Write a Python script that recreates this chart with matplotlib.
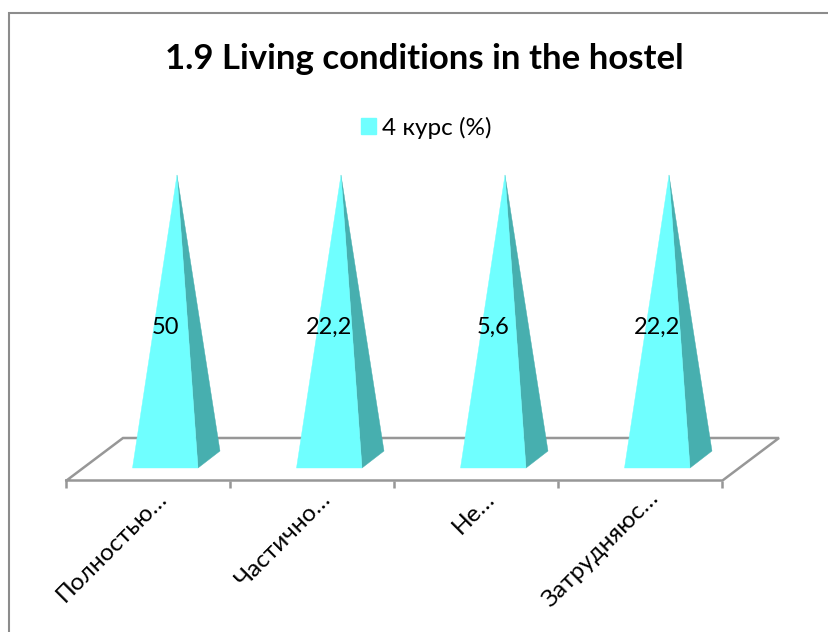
import matplotlib
matplotlib.use("Agg")
import matplotlib.pyplot as plt
from matplotlib.patches import Polygon, Patch, Rectangle

plt.rcParams['font.family'] = ['Lato', 'Open Sans', 'DejaVu Sans']

# --- data ---
categories = ["Полностью…", "Частично…", "Не…", "Затрудняюс…"]
value_labels = ["50", "22,2", "5,6", "22,2"]
heights = [100, 100, 100, 100]   # every pyramid is drawn to full height in the reference
series_name = "4 курс (%)"
title = "1.9 Living conditions in the hostel"

# --- style ---
W, H = 829, 632
FRONT, SIDE, GRID = "#6FFFFF", "#47AFAF", "#979797"

fig = plt.figure(figsize=(W / 100, H / 100), dpi=100)
left, right, top, base = 66.5, 722.5, 175.0, 468.0
ax = fig.add_axes([left / W, 1 - base / H, (right - left) / W, (base - top) / H])
ax.set_xlim(-0.5, 3.5)
ax.set_ylim(0, 100)
ax.axis("off")

px = 4 / (right - left)           # data units per pixel, x
py = 100 / (base - top)           # data units per pixel, y
floor_front = -12.5 * py
floor_back = 30 * py
depth_x = 56.5 * px

# chart frame (runs off the right and bottom of the picture)
fig.add_artist(Rectangle((9.5 / W, -0.1), 1.2, 1.1 - 12.5 / H, transform=fig.transFigure,
                         fill=False, ec="#8C8C8C", lw=1.5))

# 3-D floor
ax.plot([-0.5, 3.5, 3.5 + depth_x, -0.5 + depth_x, -0.5],
        [floor_front, floor_front, floor_back, floor_back, floor_front],
        color=GRID, lw=1.8, clip_on=False, zorder=1, solid_joinstyle="miter")
for k in range(len(categories) + 1):
    ax.plot([k - 0.5, k - 0.5], [floor_front, floor_front - 7 * py],
            color=GRID, lw=1.8, clip_on=False, zorder=1, solid_capstyle="butt")

# pyramids
for i, (h, lab, cat) in enumerate(zip(heights, value_labels, categories)):
    x0 = i + (132.5 - 148.5) * px
    x1 = i + (198.0 - 148.5) * px
    xb = i + (220.0 - 148.5) * px
    xa = i + (177.0 - 148.5) * px
    ax.add_patch(Polygon([(x1, 0), (xb, 17 * py), (xa, h)], closed=True, fc=SIDE, ec=SIDE,
                         lw=0.3, clip_on=False, zorder=2))
    ax.add_patch(Polygon([(x0, 0), (x1, 0), (xa, h)], closed=True, fc=FRONT, ec=FRONT,
                         lw=0.3, clip_on=False, zorder=3))
    ax.text((x0 + x1) / 2, h * 0.48, lab, ha="center", va="center", fontsize=17,
            color="black", zorder=4, clip_on=False)
    ax.annotate(cat, xy=(i, floor_front), xytext=(5.5, -5), textcoords="offset points",
                rotation=45, rotation_mode="anchor", ha="right", va="top",
                fontsize=17.5, color="black", annotation_clip=False)

fig.text(424.5 / W, 1 - 59 / H, title, ha="center", va="center",
         fontsize=25, fontweight="bold", color="black")

leg = fig.legend(handles=[Patch(fc=FRONT, ec=FRONT, label=series_name)], loc="center",
                 bbox_to_anchor=(426.5 / W, 1 - 127.5 / H), frameon=False, fontsize=17.5,
                 handlelength=0.62, handleheight=0.62, handletextpad=0.25, borderpad=0)

fig.savefig("out.png", dpi=100)
